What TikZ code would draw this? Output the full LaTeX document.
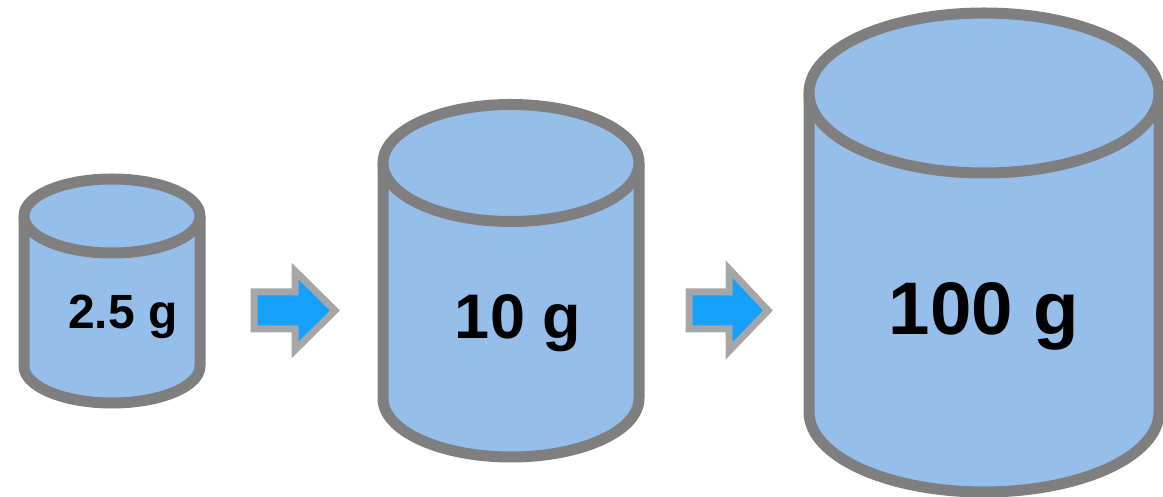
\documentclass[tikz,border=0pt]{standalone}
\usepackage{fontspec}
\setmainfont{Liberation Sans}
\definecolor{cylfill}{HTML}{95BEEA}
\definecolor{cylline}{HTML}{7F7F7F}
\definecolor{arrfill}{HTML}{16A0FE}
\definecolor{arrline}{HTML}{A6A6A6}
\tikzset{
  cylpart/.style={fill=cylfill, draw=cylline, line width=11pt, line join=round},
  bigarrow/.style={fill=arrfill, draw=arrline, line width=7pt, line join=miter},
  weight/.style={anchor=base, inner sep=0pt, font=\bfseries}
}
% \drawcylinder{cx}{rx}{ry}{y of top ellipse}{y of bottom ellipse}
\newcommand\drawcylinder[5]{%
  \path[cylpart] (#1-#2,#4) -- (#1-#2,#5)
    arc[start angle=180, end angle=360, x radius=#2, y radius=#3]
    -- (#1+#2,#4);
  \path[cylpart] (#1,#4) ellipse[x radius=#2, y radius=#3];
}
\begin{document}
\begin{tikzpicture}[x=1pt,y=1pt]
  \useasboundingbox (0,0) rectangle (1163,497);

  % three weights
  \drawcylinder{112}{88}{37}{281}{131}
  \drawcylinder{511}{128}{58.5}{334}{98.5}
  \drawcylinder{984}{175}{80}{404}{85}

  \node[weight, font=\bfseries\fontsize{48}{48}\selectfont] (w1) at (123,168) {2.5 g};
  \node[weight, font=\bfseries\fontsize{63}{63}\selectfont] (w2) at (518,158) {10 g};
  \node[weight, font=\bfseries\fontsize{74.5}{74.5}\selectfont] (w3) at (984,162) {100 g};

  % arrows between the weights
  \draw[bigarrow] (254,205) -- (295,205) -- (295,226) -- (335,186.5)
    -- (295,147) -- (295,168) -- (254,168) -- cycle;
  \draw[bigarrow] (689,205) -- (729,205) -- (729,228) -- (768,186.5)
    -- (729,146) -- (729,168) -- (689,168) -- cycle;
\end{tikzpicture}
\end{document}
